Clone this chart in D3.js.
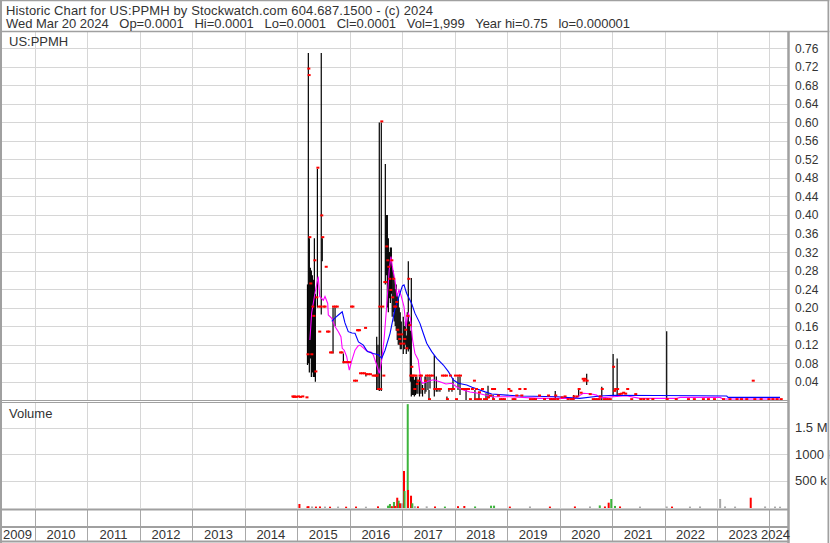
<!DOCTYPE html>
<html><head><meta charset="utf-8">
<script src="https://cdn.jsdelivr.net/npm/d3@7"></script>
<style>body{margin:0;background:#fff}svg{display:block;font-family:"Liberation Sans",Arial,sans-serif}</style>
</head><body><svg id="c" width="830" height="543"></svg>
<script>
const headerLine1 = "Historic Chart for US:PPMH by Stockwatch.com 604.687.1500 - (c) 2024";
const headerLine2 = "Wed Mar 20 2024   Op=0.0001   Hi=0.0001   Lo=0.0001   Cl=0.0001   Vol=1,999   Year hi=0.75   lo=0.000001";
const symbolLabel = "US:PPMH";
const volumeLabel = "Volume";
const yearLabels = ["2009","2010","2011","2012","2013","2014","2015","2016","2017","2018","2019","2020","2021","2022","2023","2024"];
const priceTicks = [0.04,0.08,0.12,0.16,0.20,0.24,0.28,0.32,0.36,0.40,0.44,0.48,0.52,0.56,0.60,0.64,0.68,0.72,0.76];
const volumeTicks = [500000, 1000000, 1500000];
const volumeTickLabels = ["500 k","1000 k","1.5 M"];

const barDates = [
"2014-11-28","2014-12-05","2014-12-12","2014-12-22","2015-01-06","2015-01-20","2015-02-05","2015-03-06",
"2015-03-13","2015-03-19","2015-03-21","2015-03-26","2015-04-02","2015-04-09","2015-04-16","2015-04-23",
"2015-04-30","2015-05-07","2015-05-14","2015-05-21","2015-05-28","2015-06-03","2015-06-10","2015-06-17",
"2015-06-24","2015-07-01","2015-07-10","2015-07-18","2015-07-27","2015-08-06","2015-08-17","2015-08-27",
"2015-09-07","2015-09-21","2015-10-03","2015-10-26","2015-11-05","2015-11-18","2015-11-29","2015-12-13",
"2015-12-27","2016-01-10","2016-01-20","2016-01-31","2016-02-14","2016-02-21","2016-02-28","2016-03-06",
"2016-03-13","2016-03-27","2016-04-10","2016-04-17","2016-04-23","2016-05-07","2016-05-21","2016-06-09",
"2016-06-22","2016-07-02","2016-07-07","2016-07-16","2016-07-25","2016-08-01","2016-08-08","2016-08-15",
"2016-08-22","2016-08-29","2016-09-05","2016-09-12","2016-09-19","2016-09-26","2016-10-03","2016-10-10",
"2016-10-17","2016-10-23","2016-10-30","2016-11-06","2016-11-13","2016-11-20","2016-11-27","2016-12-04",
"2016-12-11","2016-12-18","2016-12-25","2017-01-08","2017-01-15","2017-01-22","2017-01-29","2017-02-05",
"2017-02-12","2017-02-19","2017-02-26","2017-03-05","2017-03-12","2017-03-19","2017-03-26","2017-04-03",
"2017-04-12","2017-04-20","2017-05-01","2017-05-11","2017-05-22","2017-06-08","2017-06-15","2017-06-29",
"2017-07-06","2017-07-13","2017-07-27","2017-08-12","2017-08-26","2017-09-06","2017-09-20","2017-10-04",
"2017-10-18","2017-11-01","2017-11-08","2017-11-22","2017-11-29","2017-12-13","2017-12-20","2018-01-03",
"2018-01-10","2018-01-24","2018-02-07","2018-02-21","2018-03-07","2018-03-21","2018-04-04","2018-04-17",
"2018-05-01","2018-05-15","2018-05-22","2018-05-29","2018-06-12","2018-06-19","2018-06-26","2018-07-10",
"2018-07-24","2018-08-07","2018-08-21","2018-09-04","2018-09-18","2018-09-25","2018-10-02","2018-10-29",
"2018-11-12","2018-11-26","2018-12-10","2019-01-10","2019-01-24","2019-02-08","2019-02-21","2019-03-06",
"2019-03-27","2019-04-10","2019-05-03","2019-06-09","2019-06-30","2019-07-14","2019-08-11","2019-09-15",
"2019-10-13","2019-10-27","2019-11-10","2019-11-25","2019-12-02","2019-12-16","2020-01-15","2020-02-05",
"2020-02-26","2020-03-18","2020-04-01","2020-04-08","2020-04-29","2020-05-13","2020-05-27","2020-06-10",
"2020-06-17","2020-06-24","2020-07-08","2020-07-29","2020-08-19","2020-09-02","2020-09-16","2020-09-30",
"2020-10-07","2020-10-21","2020-11-04","2020-11-18","2020-12-02","2020-12-16","2021-01-08","2021-01-15",
"2021-01-22","2021-02-05","2021-02-19","2021-03-05","2021-03-19","2021-04-02","2021-04-16","2021-05-14",
"2021-06-11","2021-07-16","2021-08-06","2021-09-03","2021-10-08","2022-01-16","2022-03-20","2022-06-13",
"2022-07-24","2022-09-25","2022-10-30","2022-12-11","2023-02-12","2023-03-29","2023-05-17","2023-06-17",
"2023-07-24","2023-09-07","2023-09-18","2023-11-01","2023-12-25","2024-01-22","2024-02-20","2024-03-20"];
const barHigh = [
.006,.006,.006,.005,.006,.005,.006,.004,
.25,.75,.70,.35,.286,.28,.27,.26,
.35,.23,.22,.50,.20,.146,.20,.75,
.35,.20,.20,.286,.146,.146,.101,.101,
.20,.20,.20,.101,.101,.101,.08,.08,
.08,.20,.20,.04,.04,.149,.149,.149,
.056,.056,.056,.154,.058,.054,.054,.051,
.051,.051,.137,.12,.60,.022,.60,.20,
.051,.253,.51,.40,.40,.35,.32,.33,
.33,.29,.28,.26,.24,.25,.23,.22,
.20,.19,.17,.18,.16,.17,.14,.19,
.30,.17,.15,.264,.051,.051,.044,.051,
.051,.044,.051,.051,.033,.051,.051,.051,
.022,.051,.051,.097,.051,.025,.022,.051,
.051,.051,.008,.022,.051,.022,.048,.051,
.0001,.051,.051,.022,.022,.022,.022,.0001,
.022,.04,.022,.022,.0001,.015,.0001,.022,
.0001,.015,.031,.008,.022,.011,.022,.008,
.0001,.0001,.0001,.022,.018,.0001,.0001,.008,
.022,.008,.022,.0001,.0001,.0001,.008,.0001,
.008,.0001,.0001,.0001,.02,.0001,.004,.006,
.0001,.0001,.0001,.011,.006,.022,.014,.044,
.04,.044,.057,.011,.0001,.0001,.0001,.0001,
.006,.029,.0001,.0001,.0001,.0001,.10,.018,
.022,.09,.011,.012,.014,.012,.022,.0001,
.011,.0001,.0001,.0001,.0001,.149,.0001,.0001,
.0001,.0001,.0001,.0001,.0001,.0001,.0001,.0001,
.0001,.04,.0001,.0001,.0001,.0001,.0001,.0001];
const barLow = [
.006,.005,.006,.005,.006,.005,.006,.004,
.076,.08,.70,.06,.09,.05,.06,.05,
.05,.04,.22,.20,.20,.146,.20,.185,
.30,.20,.20,.286,.146,.146,.101,.101,
.101,.16,.20,.101,.101,.08,.08,.08,
.08,.20,.20,.04,.04,.149,.149,.149,
.056,.056,.056,.154,.051,.054,.054,.051,
.051,.051,.022,.022,.02,.022,.02,.20,
.051,.253,.25,.27,.20,.19,.22,.21,
.23,.18,.19,.17,.16,.15,.13,.12,
.12,.11,.11,.10,.11,.12,.10,.11,
.105,.11,.04,.008,.011,.011,.008,.011,
.014,.014,.008,.014,.008,.014,.018,.022,
.0001,.025,.051,.008,.018,.018,.018,.051,
.051,.051,.0001,.018,.051,.018,.022,.051,
.0001,.022,.011,.022,.022,.0001,.022,.0001,
.022,.04,.0001,.022,.0001,.0001,.0001,.022,
.0001,.0001,.004,.008,.022,.0001,.022,.008,
.0001,.0001,.0001,.022,.018,.0001,.0001,.008,
.022,.008,.022,.0001,.0001,.0001,.008,.0001,
.008,.0001,.0001,.0001,.0001,.0001,.004,.006,
.0001,.0001,.0001,.0001,.006,.008,.014,.044,
.04,.044,.033,.011,.0001,.0001,.0001,.0001,
.006,.0001,.0001,.0001,.0001,.0001,.008,.018,
.022,.008,.011,.012,.014,.012,.022,.0001,
.011,.0001,.0001,.0001,.0001,.0001,.0001,.0001,
.0001,.0001,.0001,.0001,.0001,.0001,.0001,.0001,
.0001,.04,.0001,.0001,.0001,.0001,.0001,.0001];
const barClose = [
.006,.005,.006,.005,.006,.005,.006,.004,
.097,.714,.70,.35,.25,.097,.20,.18,
.30,.06,.22,.50,.20,.146,.20,.397,
.35,.20,.20,.286,.146,.146,.101,.101,
.20,.20,.20,.101,.101,.08,.08,.08,
.08,.20,.20,.04,.04,.149,.149,.149,
.056,.056,.056,.154,.054,.054,.054,.051,
.051,.051,.051,.022,.20,.022,.60,.20,
.051,.253,.253,.33,.30,.286,.26,.236,
.30,.22,.26,.20,.20,.21,.15,.14,
.13,.12,.14,.12,.13,.15,.11,.18,
.26,.16,.051,.07,.051,.051,.022,.051,
.033,.04,.051,.051,.022,.04,.051,.051,
.0001,.051,.051,.022,.022,.022,.022,.051,
.051,.051,.0001,.022,.051,.022,.022,.051,
.0001,.051,.051,.022,.022,.022,.022,.0001,
.022,.04,.0001,.022,.0001,.015,.0001,.022,
.0001,.0001,.004,.008,.022,.0001,.022,.008,
.0001,.0001,.0001,.022,.018,.0001,.0001,.008,
.022,.008,.022,.0001,.0001,.0001,.008,.0001,
.008,.0001,.0001,.0001,.008,.0001,.004,.006,
.0001,.0001,.0001,.006,.006,.022,.014,.044,
.04,.044,.04,.011,.0001,.0001,.0001,.0001,
.006,.022,.0001,.0001,.0001,.0001,.07,.018,
.022,.022,.011,.012,.014,.012,.022,.0001,
.011,.0001,.0001,.0001,.0001,.0001,.0001,.0001,
.0001,.0001,.0001,.0001,.0001,.0001,.0001,.0001,
.0001,.04,.0001,.0001,.0001,.0001,.0001,.0001];

const maShortDates = [
"2015-03-30","2015-04-11","2015-05-04","2015-05-27","2015-06-06","2015-07-01","2015-07-13","2015-08-01",
"2015-08-05","2015-08-29","2015-09-21","2015-10-14","2015-11-01","2015-11-10","2015-11-24","2015-12-11",
"2015-12-29","2016-01-17","2016-02-07","2016-02-28","2016-03-13","2016-04-05","2016-04-23","2016-05-09",
"2016-05-28","2016-06-13","2016-07-07","2016-07-25","2016-08-11","2016-08-27","2016-09-14","2016-10-02",
"2016-10-14","2016-10-28","2016-11-11","2016-11-25","2016-12-09","2016-12-23","2017-01-13","2017-01-27",
"2017-02-12","2017-02-26","2017-03-14","2017-03-30","2017-04-22","2017-05-09","2017-05-23","2017-06-29",
"2017-08-05","2017-09-20","2017-11-01","2017-12-11","2018-01-17","2018-03-02","2018-04-17","2018-06-14",
"2018-09-16","2019-01-20","2019-08-17","2020-04-17","2020-06-14","2020-07-31","2020-09-15","2020-10-08",
"2021-01-09","2021-04-08","2021-07-14","2022-03-27","2022-04-19","2023-01-23","2023-02-12","2024-03-15"];
const maShortValues = [
.130,.188,.231,.267,.224,.216,.224,.209,
.184,.177,.159,.148,.137,.112,.108,.094,
.065,.087,.108,.117,.119,.113,.108,.105,
.104,.098,.076,.058,.087,.130,.202,.281,
.310,.281,.260,.224,.238,.227,.202,.159,
.188,.178,.130,.101,.087,.044,.0365,.041,
.044,.040,.035,.0365,.0285,.022,.0177,.015,
.0076,.0076,.004,.004,.015,.014,.011,.005,
.0076,.0097,.004,.004,.006,.006,.0026,.0026];

const maLongDates = [
"2015-08-29","2015-09-21","2015-10-14","2015-11-10","2015-11-29","2015-12-22","2016-01-17","2016-02-07",
"2016-03-02","2016-04-05","2016-05-03","2016-06-13","2016-07-18","2016-08-11","2016-09-03","2016-10-08",
"2016-11-11","2016-12-16","2017-01-02","2017-01-13","2017-01-31","2017-03-07","2017-03-30","2017-05-04",
"2017-05-27","2017-06-20","2017-07-25","2017-08-29","2017-10-14","2017-11-18","2017-12-23","2018-01-26",
"2018-03-26","2018-05-02","2018-08-01","2018-09-16","2018-12-28","2019-04-12","2019-12-15","2020-05-21",
"2020-10-08","2021-01-09","2022-09-09","2023-03-10","2023-03-19","2024-03-15"];
const maLongValues = [
.170,.178,.184,.191,.167,.148,.145,.1445,
.126,.119,.105,.101,.098,.0905,.108,.1445,
.1965,.231,.247,.249,.231,.209,.188,.166,
.1445,.123,.105,.0905,.076,.0616,.0436,.0365,
.033,.028,.018,.0134,.011,.009,.0076,.004,
.009,.0106,.0097,.009,.006,.006];

const volDates = [
"2015-01-16","2015-03-13","2015-03-20","2015-04-14","2015-05-11","2015-06-08","2015-07-13","2015-08-17",
"2015-10-12","2015-12-07","2016-02-14","2016-04-23","2016-07-16","2016-09-24","2016-10-07","2016-10-21",
"2016-11-04","2016-11-11","2016-11-27","2016-12-07","2016-12-16","2016-12-30","2017-01-13","2017-01-17",
"2017-02-08","2017-02-10","2017-03-03","2017-03-12","2017-03-30","2017-04-20","2017-06-20","2017-08-17",
"2017-10-25","2018-01-24","2018-03-09","2018-05-23","2018-09-11","2018-10-02","2019-01-20","2019-06-09",
"2019-10-26","2020-04-17","2020-07-31","2020-10-07","2020-11-12","2020-12-08","2020-12-26","2021-01-21",
"2021-02-25","2021-07-14","2022-01-16","2022-02-22","2022-06-27","2022-09-05","2023-01-23","2023-02-26",
"2023-05-07","2023-08-24","2023-12-02","2024-02-09","2024-03-15"];
const volValues = [
57000,12000,15000,10000,8000,10000,8000,6000,
8000,6000,8000,6000,12000,25000,57000,15000,
95000,20000,176000,120000,70000,70000,683000,304000,
1950000,323000,214000,70000,15000,12000,12000,10000,
8000,15000,19000,10000,25000,25000,8000,10000,
8000,10000,10000,30000,10000,82000,152000,20000,
10000,8000,10000,8000,8000,10000,152000,10000,
8000,176000,10000,8000,6000];
const volDir = [
"d","d","d","f","d","d","f","d",
"f","d","d","f","d","u","u","d",
"u","d","d","u","d","f","d","u",
"u","d","d","u","f","d","f","d",
"u","d","d","u","u","u","d","f",
"d","d","f","u","d","d","u","u",
"d","f","f","d","f","f","f","f",
"f","d","f","f","f"];

const parse = d3.utcParse("%Y-%m-%d");
const svg = d3.select("#c");
const TXT = "#333";
const FRAME = "#a0a0a0";
const GRID = "#d6d6d6";

const x = d3.scaleUtc().domain([Date.UTC(2010,0,1), Date.UTC(2024,0,1)]).range([35, 769.4]);
const yP = d3.scaleLinear().domain([0, 0.76]).range([400.2, 48.3]);
const yV = d3.scaleLinear().domain([0, 2000000]).range([507, 401.5]);

svg.append("rect").attr("width",830).attr("height",543).attr("fill","#fff");

const years = d3.range(2010, 2025);
const g = svg.append("g");
years.forEach(yr => {
  const xx = Math.round(x(Date.UTC(yr,0,1))) + 0.5;
  g.append("line").attr("x1",xx).attr("x2",xx).attr("y1",32).attr("y2",400).attr("stroke",GRID);
  g.append("line").attr("x1",xx).attr("x2",xx).attr("y1",403).attr("y2",508).attr("stroke",GRID);
  g.append("line").attr("x1",xx).attr("x2",xx).attr("y1",510).attr("y2",527).attr("stroke","#a8a8a8");
  g.append("line").attr("x1",xx).attr("x2",xx).attr("y1",527).attr("y2",541).attr("stroke","#a8a8a8");
});
priceTicks.forEach(t => {
  const yy = Math.round(yP(t)) + 0.5;
  g.append("line").attr("x1",2).attr("x2",788).attr("y1",yy).attr("y2",yy).attr("stroke",GRID);
});
volumeTicks.forEach(t => {
  const yy = Math.round(yV(t)) + 0.5;
  g.append("line").attr("x1",2).attr("x2",788).attr("y1",yy).attr("y2",yy).attr("stroke",GRID);
});

const defs = svg.append("defs");
defs.append("clipPath").attr("id","pc").append("rect").attr("x",2).attr("y",32).attr("width",786).attr("height",368);
defs.append("clipPath").attr("id","vc").append("rect").attr("x",2).attr("y",403).attr("width",786).attr("height",105);

const bars = barDates.map((d,i) => ({d: parse(d), h: barHigh[i], l: barLow[i], c: barClose[i]}));
const pg = svg.append("g").attr("clip-path","url(#pc)");
pg.selectAll("line.hl").data(bars.filter(b => b.h > b.l)).enter().append("line")
  .attr("x1", b => x(b.d)).attr("x2", b => x(b.d))
  .attr("y1", b => yP(b.h)).attr("y2", b => yP(b.l))
  .attr("stroke","#000").attr("stroke-width",1.2);

const lineGen = d3.line().x(p => x(p[0])).y(p => yP(p[1]));
const mS = maShortDates.map((d,i) => [parse(d), maShortValues[i]]);
const mL = maLongDates.map((d,i) => [parse(d), maLongValues[i]]);
pg.append("path").attr("d", lineGen(mS)).attr("fill","none").attr("stroke","#ff00ff").attr("stroke-width",1.1);
pg.append("path").attr("d", lineGen(mL)).attr("fill","none").attr("stroke","#0000ff").attr("stroke-width",1.1);

pg.selectAll("rect.cl").data(bars).enter().append("rect")
  .attr("x", b => x(b.d) - 1).attr("y", b => yP(b.c) - 2)
  .attr("width",3).attr("height",2).attr("fill","#ff0000");

const vols = volDates.map((d,i) => ({d: parse(d), v: volValues[i], k: volDir[i]}));
const vColor = {u:"#3cb43c", d:"#ff0000", f:"#a8a8a8"};
const vg = svg.append("g").attr("clip-path","url(#vc)");
vg.selectAll("rect").data(vols).enter().append("rect")
  .attr("x", o => x(o.d) - 1).attr("width", 2)
  .attr("y", o => yV(o.v)).attr("height", o => yV(0) - yV(o.v) + 1)
  .attr("fill", o => vColor[o.k]);

const fr = svg.append("g").attr("stroke",FRAME).attr("fill","none");
fr.append("line").attr("x1",0).attr("x2",830).attr("y1",0.5).attr("y2",0.5).attr("stroke-width",1.5);
fr.append("line").attr("x1",0).attr("x2",830).attr("y1",31.5).attr("y2",31.5).attr("stroke-width",1.5);
fr.append("line").attr("x1",0).attr("x2",789).attr("y1",400.5).attr("y2",400.5);
fr.append("line").attr("x1",0).attr("x2",789).attr("y1",402.5).attr("y2",402.5);
fr.append("line").attr("x1",0).attr("x2",789).attr("y1",509.5).attr("y2",509.5).attr("stroke-width",2);
fr.append("line").attr("x1",0).attr("x2",789).attr("y1",527).attr("y2",527).attr("stroke-width",2);
fr.append("line").attr("x1",0).attr("x2",789).attr("y1",541.5).attr("y2",541.5).attr("stroke-width",2);
fr.append("line").attr("x1",1).attr("x2",1).attr("y1",0).attr("y2",543).attr("stroke-width",2);
fr.append("line").attr("x1",788.5).attr("x2",788.5).attr("y1",31).attr("y2",543).attr("stroke-width",2.5);

const txt = svg.append("g").attr("fill",TXT);
txt.append("text").attr("x",6).attr("y",15).attr("font-size",13)
  .attr("textLength",427).attr("lengthAdjust","spacing").text(headerLine1);
txt.append("text").attr("x",6).attr("y",27.5).attr("font-size",13)
  .attr("xml:space","preserve").style("white-space","pre")
  .attr("textLength",624).attr("lengthAdjust","spacing").text(headerLine2);
txt.append("text").attr("x",9).attr("y",46).attr("font-size",13).text(symbolLabel);
txt.append("text").attr("x",9).attr("y",418).attr("font-size",13).text(volumeLabel);

txt.selectAll("text.pt").data(priceTicks).enter().append("text")
  .attr("x",795).attr("y", t => yP(t) + 4.5).attr("font-size",12)
  .text(t => t.toFixed(2));
txt.selectAll("text.vt").data(volumeTicks).enter().append("text")
  .attr("x",795).attr("y", t => yV(t) + 4.5).attr("font-size",13)
  .text((t,i) => volumeTickLabels[i]);

yearLabels.forEach((lab, i) => {
  const yr = +lab;
  const t = txt.append("text").attr("y",539).attr("font-size",13).text(lab);
  if (i === 0) t.attr("x",3).attr("text-anchor","start");
  else if (i === yearLabels.length - 1) t.attr("x",790).attr("text-anchor","end");
  else t.attr("x", x(Date.UTC(yr,6,1))).attr("text-anchor","middle");
});
svg.append("line").attr("x1",828.5).attr("x2",828.5).attr("y1",0).attr("y2",543).attr("stroke",FRAME).attr("stroke-width",2);
svg.append("rect").attr("x",829.5).attr("y",0).attr("width",1).attr("height",543).attr("fill","#fff");
</script></body></html>
